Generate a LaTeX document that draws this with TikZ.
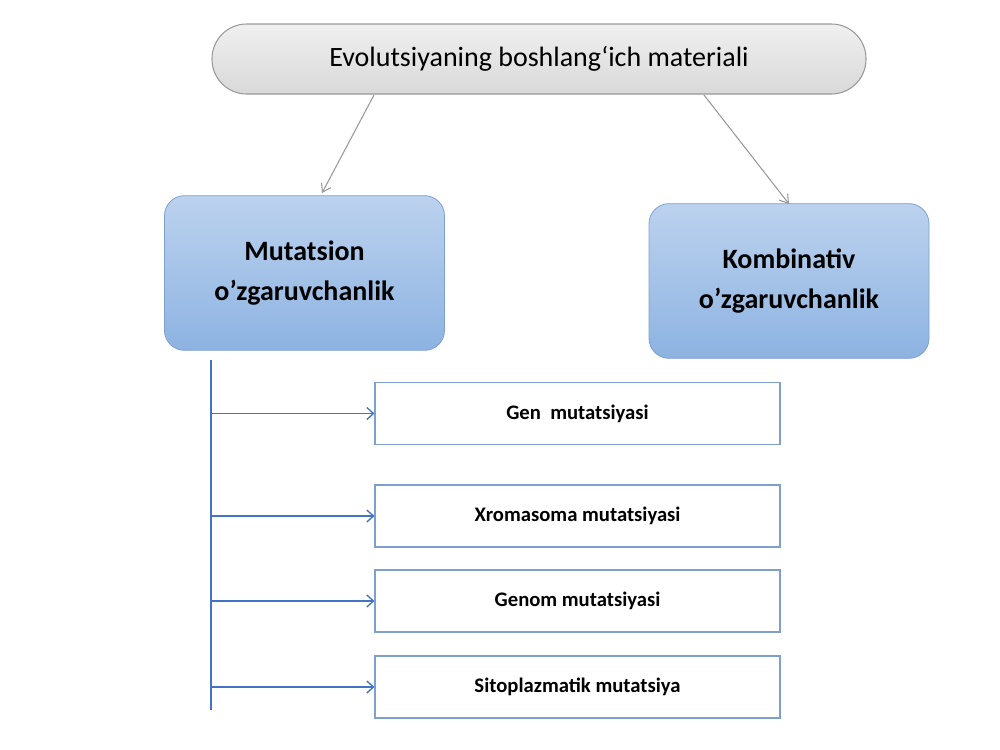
\documentclass[tikz,border=0pt]{standalone}
\usepackage{fontspec}
\setmainfont{Carlito}
\usetikzlibrary{arrows.meta}
\definecolor{bord}{HTML}{7F9FCF}
\definecolor{bltop}{HTML}{BCD2EE}
\definecolor{blbot}{HTML}{8DB3E2}
\definecolor{lineb}{HTML}{4472C4}
\tikzset{
 mainbox/.style={draw=gray!80,line width=0.8pt,rounded corners=26pt,top color=gray!12,bottom color=gray!30,minimum width=490.5pt,minimum height=52.5pt,font=\fontsize{21}{25}\selectfont},
 bigbox/.style={draw=bord,line width=0.6pt,rounded corners=15pt,top color=bltop,bottom color=blbot,minimum width=210pt,minimum height=116pt,align=center,font=\bfseries\fontsize{21}{30}\selectfont},
 smallbox/.style={draw=bord,line width=0.8pt,fill=white,minimum width=303.75pt,minimum height=46.5pt,font=\bfseries\fontsize{15.5}{18}\selectfont},
 grayarr/.style={draw=gray!80,line width=0.8pt,-{Straight Barb[length=6pt,width=8pt]}},
 bluearr/.style={draw=lineb,line width=1pt,-{Straight Barb[length=5pt,width=9pt]}}
}
\begin{document}
\begin{tikzpicture}[x=0.75pt,y=-0.75pt]
\useasboundingbox (0,0) rectangle (1000,750);
\node[mainbox] (top) at (539,59) {Evolutsiyaning boshlang‘ich materiali};
\node[bigbox] (mut) at (304.5,273) {Mutatsion\\o’zgaruvchanlik};
\node[bigbox] (kom) at (789,281) {Kombinativ\\o’zgaruvchanlik};
\node[smallbox] (g1) at (577.5,413.5) {Gen\ \ mutatsiyasi};
\node[smallbox] (g2) at (577.5,516) {Xromasoma mutatsiyasi};
\node[smallbox] (g3) at (577.5,601) {Genom mutatsiyasi};
\node[smallbox] (g4) at (577.5,687) {Sitoplazmatik mutatsiya};
\coordinate (a1) at (374,95); \coordinate (a2) at (704,95);
\draw[grayarr] (a1) -- (322,193);
\draw[grayarr] (a2) -- (789,204);
\coordinate (vt) at (211,360); \coordinate (vb) at (211,710);
\draw[lineb,line width=1.2pt] (vt) -- (vb);
\foreach \n/\y in {g1/413.5,g2/516,g3/601,g4/687}{
 \draw[bluearr] (211,\y) -- (\n.west);
}
\end{tikzpicture}
\end{document}
